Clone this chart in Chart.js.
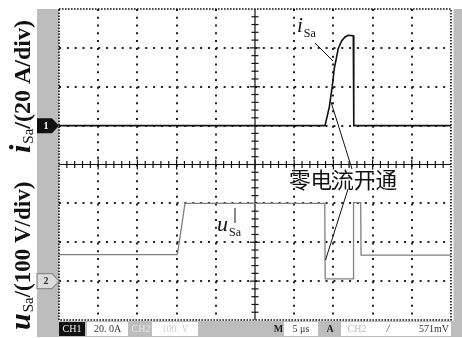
<!DOCTYPE html>
<html>
<head>
<meta charset="utf-8">
<script src="https://cdn.jsdelivr.net/npm/chart.js@4/dist/chart.umd.min.js"></script>
<style>
  html, body { margin: 0; padding: 0; background: #fff; }
  canvas { display: block; }
</style>
</head>
<body>
<canvas id="scope" width="462" height="338"></canvas>
<script>
// Time base: 5 μs/div, 10 divisions
const timeTicks = [0, 5, 10, 15, 20, 25, 30, 35, 40, 45, 50];
// CH1 scale: 20 A/div, zero marker 3 divisions below the top
const currentTicks = [-100, -80, -60, -40, -20, 0, 20, 40, 60];
// CH2 scale: 100 V/div, zero marker 1 division above the bottom
const voltageRange = [-100, 700];

// CH1: switch current i_Sa (A)
const currentTime = [0, 33.93, 34.48, 34.86, 35.11, 35.33, 35.62, 36.05, 36.48, 36.9, 37.54, 37.6, 50];
const currentAmp  = [0, 0, 9.6, 20.3, 29.4, 33.7, 39.7, 43.6, 45.6, 46.5, 46.2, 0, 0];

// CH2: switch voltage u_Sa (V)
const voltageTime = [0, 15.1, 16.07, 33.9, 33.95, 37.52, 37.57, 38.48, 38.53, 50];
const voltageVolt = [68, 68, 200, 200, 6, 6, 202, 202, 67, 67];

// Readout bar texts
const ch1Readout = ['CH1', '20. 0A'];
const ch2Readout = ['CH2', '100. V'];
const timeReadout = ['M', '5 μs'];
const trigReadout = ['A', 'CH2', '/', '571mV'];
const annotation = '零电流开通';

const SERIF = "'Liberation Serif', 'DejaVu Serif', serif";
const SCREEN_GRAY = '#bdbdbd';

function toPoints(xs, ys) {
  return xs.map((x, i) => ({ x: x, y: ys[i] }));
}

function isFrameOrCenter(value, list) {
  return value === list[0] || value === list[list.length - 1] ||
         value === list[(list.length - 1) / 2];
}

function drawTitle(ctx, baseX, startY, sym, sub, rest, sizes) {
  ctx.save();
  ctx.translate(baseX, startY);
  ctx.rotate(-Math.PI / 2);
  ctx.fillStyle = '#111';
  ctx.textBaseline = 'alphabetic';
  ctx.textAlign = 'left';
  let x = 0;
  ctx.font = `bold italic ${sizes.sym}px ${SERIF}`;
  ctx.fillText(sym, x, 0);
  x += ctx.measureText(sym).width + 1;
  ctx.font = `${sizes.sub}px ${SERIF}`;
  ctx.fillText(sub, x, sizes.drop);
  x += ctx.measureText(sub).width;
  ctx.font = `bold ${sizes.rest}px ${SERIF}`;
  ctx.fillText(rest, x, 0);
  ctx.restore();
}

function drawVarLabel(ctx, x, y, sym, sub, symSize, subSize, drop) {
  ctx.save();
  ctx.fillStyle = '#111';
  ctx.textBaseline = 'alphabetic';
  ctx.textAlign = 'left';
  ctx.font = `italic ${symSize}px ${SERIF}`;
  ctx.fillText(sym, x, y);
  const w = ctx.measureText(sym).width;
  ctx.font = `${subSize}px ${SERIF}`;
  ctx.fillText(sub, x + w + 1, y + drop);
  ctx.restore();
}

function line(ctx, x1, y1, x2, y2) {
  ctx.beginPath();
  ctx.moveTo(x1, y1);
  ctx.lineTo(x2, y2);
  ctx.stroke();
}

function marker(ctx, x, y, label, fill, stroke, textColor) {
  ctx.save();
  ctx.beginPath();
  ctx.moveTo(x - 22, y - 7.5);
  ctx.lineTo(x - 7, y - 7.5);
  ctx.lineTo(x, y);
  ctx.lineTo(x - 7, y + 7.5);
  ctx.lineTo(x - 22, y + 7.5);
  ctx.closePath();
  ctx.fillStyle = fill;
  ctx.fill();
  if (stroke) {
    ctx.strokeStyle = stroke;
    ctx.lineWidth = 1.2;
    ctx.stroke();
  }
  ctx.fillStyle = textColor;
  ctx.font = `bold 10px ${SERIF}`;
  ctx.textAlign = 'center';
  ctx.textBaseline = 'middle';
  ctx.fillText(label, x - 13, y + 0.5);
  ctx.restore();
}

function box(ctx, x1, x2, top, bottom, fill) {
  ctx.fillStyle = fill;
  ctx.fillRect(x1, top, x2 - x1, bottom - top);
}

function text(ctx, str, cx, y, color, font) {
  ctx.fillStyle = color;
  ctx.font = font;
  ctx.textAlign = 'center';
  ctx.textBaseline = 'middle';
  ctx.fillText(str, cx, y);
}

const scopeFace = {
  id: 'scopeFace',
  beforeDraw(chart) {
    const { ctx, chartArea: a } = chart;
    ctx.save();
    ctx.fillStyle = '#fff';
    ctx.fillRect(0, 0, chart.width, chart.height);
    ctx.fillStyle = SCREEN_GRAY;
    ctx.fillRect(37, a.top, a.left - 37, 337 - a.top);      // left strip
    ctx.fillRect(37, a.bottom + 1, 462 - 37, 337 - a.bottom - 1); // readout bar
    ctx.fillRect(a.right + 2.5, a.top, 462 - a.right - 2.5, 337 - a.top); // right strip
    ctx.restore();
  },
  beforeDatasetsDraw(chart) {
    const { ctx, chartArea: a, scales } = chart;
    ctx.save();
    // dense dotted frame
    ctx.strokeStyle = '#111';
    ctx.lineWidth = 1.6;
    ctx.setLineDash([1.6, 1.4]);
    ctx.strokeRect(a.left, a.top, a.right - a.left, a.bottom - a.top);
    ctx.setLineDash([]);

    // centre cross with minor ticks (5 per division)
    const cx = scales.x.getPixelForValue(timeTicks[(timeTicks.length - 1) / 2]);
    const cy = scales.yI.getPixelForValue(currentTicks[(currentTicks.length - 1) / 2]);
    ctx.lineWidth = 1.2;
    line(ctx, cx, a.top, cx, a.bottom);
    line(ctx, a.left, cy, a.right, cy);
    const nx = (timeTicks.length - 1) * 5;
    const ny = (currentTicks.length - 1) * 5;
    for (let i = 1; i < nx; i++) {
      const px = a.left + (a.right - a.left) * i / nx;
      const len = i % 5 === 0 ? 5 : 3.5;
      line(ctx, px, cy - len, px, cy + len);
    }
    for (let j = 1; j < ny; j++) {
      const py = a.top + (a.bottom - a.top) * j / ny;
      const len = j % 5 === 0 ? 5 : 3.5;
      line(ctx, cx - len, py, cx + len, py);
    }
    ctx.restore();
  },
  afterDatasetsDraw(chart) {
    const { ctx, chartArea: a, scales } = chart;
    ctx.save();

    // waveform labels and leader lines
    ctx.strokeStyle = '#111';
    ctx.lineWidth = 1;
    drawVarLabel(ctx, 297, 32, 'i', 'Sa', 21, 12, 5);
    line(ctx, 315, 43, 333, 61);
    drawVarLabel(ctx, 217, 231, 'u', 'Sa', 22, 12, 5);
    line(ctx, 235, 208, 235, 223);

    ctx.fillStyle = '#111';
    ctx.font = "21.6px 'Noto Sans CJK SC'";
    ctx.textAlign = 'left';
    ctx.textBaseline = 'middle';
    ctx.fillText(annotation, 289, 180);
    line(ctx, 352, 169, 331, 102);
    line(ctx, 348, 189, 325.5, 260);

    // channel ground markers
    marker(ctx, a.left, scales.yI.getPixelForValue(0), '1', '#111', null, '#fff');
    marker(ctx, a.left, scales.yU.getPixelForValue(0), '2', '#dcdcdc', '#8a8a8a', '#333');

    // axis titles
    drawTitle(ctx, 30, 153, 'i', 'Sa', '/(20 A/div)', { sym: 30, sub: 15, rest: 24, drop: 3 });
    drawTitle(ctx, 30, 330, 'u', 'Sa', '/(100 V/div)', { sym: 30, sub: 15, rest: 23, drop: 3 });

    // readout bar
    const top = a.bottom + 2, bottom = 336, mid = (top + bottom) / 2 + 0.5;
    const small = `10px ${SERIF}`;
    const boldSmall = `bold 10px ${SERIF}`;
    box(ctx, a.left, 85, top, bottom, '#111');
    text(ctx, ch1Readout[0], 72, mid, '#eee', small);
    box(ctx, 87, 128, top, bottom, '#fff');
    text(ctx, ch1Readout[1], 107.5, mid, '#333', small);
    text(ctx, ch2Readout[0], 141, mid, '#e8e8e8', small);
    box(ctx, 152, 198, top, bottom, '#fff');
    text(ctx, ch2Readout[1], 175, mid, '#cfcfcf', small);
    text(ctx, timeReadout[0], 278.5, mid, '#222', boldSmall);
    box(ctx, 284, 318, top, bottom, '#fff');
    text(ctx, timeReadout[1], 301, mid, '#333', small);
    text(ctx, trigReadout[0], 330, mid, '#222', boldSmall);
    box(ctx, 341, 451, top, bottom, '#fff');
    text(ctx, trigReadout[1], 357, mid, '#bbb', small);
    text(ctx, trigReadout[2], 388, mid, '#333', `italic 10px ${SERIF}`);
    text(ctx, trigReadout[3], 434, mid, '#333', small);

    ctx.restore();
  }
};

new Chart(document.getElementById('scope'), {
  type: 'line',
  data: {
    datasets: [
      {
        label: 'u_Sa',
        data: toPoints(voltageTime, voltageVolt),
        yAxisID: 'yU',
        borderColor: '#808080',
        borderWidth: 1.3,
        pointRadius: 0,
        tension: 0
      },
      {
        label: 'i_Sa',
        data: toPoints(currentTime, currentAmp),
        yAxisID: 'yI',
        borderColor: '#111',
        borderWidth: 1.6,
        pointRadius: 0,
        tension: 0
      }
    ]
  },
  options: {
    responsive: false,
    animation: false,
    devicePixelRatio: 1,
    layout: { padding: { left: 59, top: 9, right: 11, bottom: 18 } },
    plugins: { legend: { display: false }, tooltip: { enabled: false } },
    scales: {
      x: {
        type: 'linear',
        min: timeTicks[0],
        max: timeTicks[timeTicks.length - 1],
        afterBuildTicks: s => { s.ticks = timeTicks.map(v => ({ value: v })); },
        ticks: { display: false },
        grid: {
          drawTicks: false,
          lineWidth: 2,
          color: c => isFrameOrCenter(c.tick.value, timeTicks) ? 'rgba(0,0,0,0)' : '#222'
        },
        border: { display: false, dash: [2, 5.78] }
      },
      yI: {
        type: 'linear',
        position: 'left',
        min: currentTicks[0],
        max: currentTicks[currentTicks.length - 1],
        afterBuildTicks: s => { s.ticks = currentTicks.map(v => ({ value: v })); },
        ticks: { display: false },
        grid: {
          drawTicks: false,
          lineWidth: 2,
          color: c => isFrameOrCenter(c.tick.value, currentTicks) ? 'rgba(0,0,0,0)' : '#222'
        },
        border: { display: false, dash: [2, 5.84] }
      },
      yU: {
        type: 'linear',
        position: 'right',
        display: false,
        min: voltageRange[0],
        max: voltageRange[1]
      }
    }
  },
  plugins: [scopeFace]
});
</script>
</body>
</html>
